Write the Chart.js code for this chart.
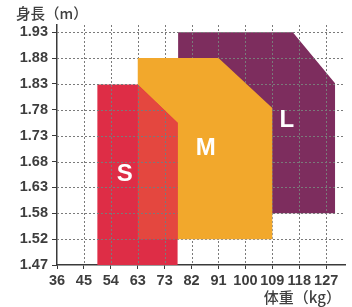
<!DOCTYPE html>
<html><head><meta charset="utf-8">
<script src="https://cdn.jsdelivr.net/npm/chart.js@4.4.1/dist/chart.umd.min.js"></script>
<style>html,body{margin:0;padding:0;background:#fff;overflow:hidden;}canvas{display:block;}</style>
</head><body>
<canvas id="c" width="352" height="307"></canvas>
<script>
// Tick labels (axes are evenly spaced categories of these values)
const weightLabels = ['36','45','54','63','73','82','91','100','109','118','127'];
const heightLabels = ['1.47','1.52','1.58','1.63','1.68','1.73','1.78','1.83','1.88','1.93'];
const xTitle = '体重（kg）';
const yTitle = '身長（m）';
// Size regions, vertices in tick-index units (x: weight index, y: height index)
const sizeNames = ['S','M','L'];
const sX = [1.5, 1.5, 3, 4.48, 4.48];
const sY = [0, 6.98, 6.98, 5.5, 0];
const overlapX = [3, 3, 4.48, 4.48];
const overlapY = [1, 6.98, 5.5, 1];
const mX = [3, 3, 6, 8, 8];
const mY = [1, 8, 8, 6.07, 1];
const lX = [4.5, 4.5, 8.76, 10.33, 10.33];
const lY = [2, 9, 9, 7.03, 2];
const labelX = [2.52, 5.53, 8.54];
const labelY = [3.52, 4.5, 5.6];

const colS = '#de2d46', colOverlap = '#e4473f', colM = '#f2a82c', colL = '#7d2d5e';

function pts(xs, ys){ return xs.map((x,i)=>({x:x, y:ys[i]})); }
function ds(xs, ys, color){
  return {data: pts(xs, ys), showLine: true, fill: 'shape', backgroundColor: color,
    borderColor: 'rgba(0,0,0,0)', borderWidth: 0.01, pointRadius: 0, pointHoverRadius: 0, tension: 0};
}

function polyPath(ctx, chart, xs, ys){
  const sx = chart.scales.x, sy = chart.scales.y;
  xs.forEach((v,i)=>{
    const px = sx.getPixelForValue(v), py = sy.getPixelForValue(ys[i]);
    if (i===0) ctx.moveTo(px,py); else ctx.lineTo(px,py);
  });
  ctx.closePath();
}
function drawGrid(ctx, chart){
  const a = chart.chartArea, sx = chart.scales.x, sy = chart.scales.y;
  ctx.strokeStyle = '#7a7a7a'; ctx.lineWidth = 1; ctx.setLineDash([2,2]);
  ctx.beginPath();
  for (let i=1;i<weightLabels.length;i++){
    const x = Math.round(sx.getPixelForValue(i))+0.5;
    ctx.moveTo(x, a.top); ctx.lineTo(x, a.bottom);
  }
  for (let j=1;j<heightLabels.length;j++){
    const y = Math.round(sy.getPixelForValue(j))+0.5;
    ctx.moveTo(a.left, y); ctx.lineTo(a.right, y);
  }
  ctx.stroke();
  ctx.setLineDash([]);
}
const overlayPlugin = {
  id: 'overlay',
  afterDatasetsDraw(chart){
    const ctx = chart.ctx, a = chart.chartArea;
    ctx.save();
    ctx.beginPath();
    ctx.rect(a.left, a.top, a.right-a.left, a.bottom-a.top);
    polyPath(ctx, chart, mX, mY);
    ctx.clip('evenodd');
    drawGrid(ctx, chart);
    ctx.restore();
    ctx.save();
    ctx.beginPath();
    polyPath(ctx, chart, overlapX, overlapY);
    ctx.clip();
    drawGrid(ctx, chart);
    ctx.restore();
    ctx.save();
    ctx.fillStyle = '#ffffff';
    ctx.font = 'bold 24px "Liberation Sans", Arial, sans-serif';
    ctx.textAlign = 'center'; ctx.textBaseline = 'middle';
    sizeNames.forEach((n,i)=>{
      ctx.fillText(n, chart.scales.x.getPixelForValue(labelX[i]), chart.scales.y.getPixelForValue(labelY[i]));
    });
    ctx.restore();
  },
  afterDraw(chart){
    const ctx = chart.ctx;
    ctx.save();
    ctx.fillStyle = '#404040';
    ctx.textBaseline = 'middle';
    ctx.font = '500 14.5px "Noto Sans CJK JP", sans-serif';
    ctx.textAlign = 'left';
    ctx.fillText(yTitle, 16, 13);
    ctx.font = '500 15px "Noto Sans CJK JP", sans-serif';
    ctx.textAlign = 'right';
    ctx.fillText(xTitle, 341, 297);
    ctx.restore();
  }
};

const tickFont = {family: '"Liberation Sans", Arial, sans-serif', size: 14.5, weight: 'bold'};

new Chart(document.getElementById('c'), {
  type: 'scatter',
  data: { datasets: [
    ds(overlapX, overlapY, colOverlap),
    ds(sX, sY, colS),
    ds(mX, mY, colM),
    ds(lX, lY, colL)
  ]},
  options: {
    responsive: false, animation: false, events: [], devicePixelRatio: 1,
    layout: {padding: {top: 25, right: 7, left: 0, bottom: 0}},
    plugins: {legend: {display: false}, tooltip: {enabled: false}, title: {display: false}},
    scales: {
      x: {
        type: 'linear', min: 0, max: 10.7,
        afterBuildTicks: s => { s.ticks = weightLabels.map((_, i) => ({value: i})); },
        afterFit: s => { s.height = 42; },
        ticks: {callback: v => weightLabels[v], autoSkip: false, maxRotation: 0, minRotation: 0,
          font: tickFont, color: '#3d3d3d', padding: 3},
        grid: {drawOnChartArea: false, drawTicks: true, tickLength: 4, tickColor: '#3a3a3a'},
        border: {display: true, color: '#3a3a3a', width: 1.5}
      },
      y: {
        type: 'linear', min: 0, max: 9.28,
        afterBuildTicks: s => { s.ticks = heightLabels.map((_, i) => ({value: i})); },
        afterFit: s => { s.width = 57; },
        ticks: {callback: v => heightLabels[v], autoSkip: false,
          font: tickFont, color: '#3d3d3d', padding: 4},
        grid: {drawOnChartArea: false, drawTicks: true, tickLength: 5, tickColor: '#3a3a3a'},
        border: {display: true, color: '#3a3a3a', width: 1.5}
      }
    }
  },
  plugins: [overlayPlugin]
});
</script>
</body></html>
